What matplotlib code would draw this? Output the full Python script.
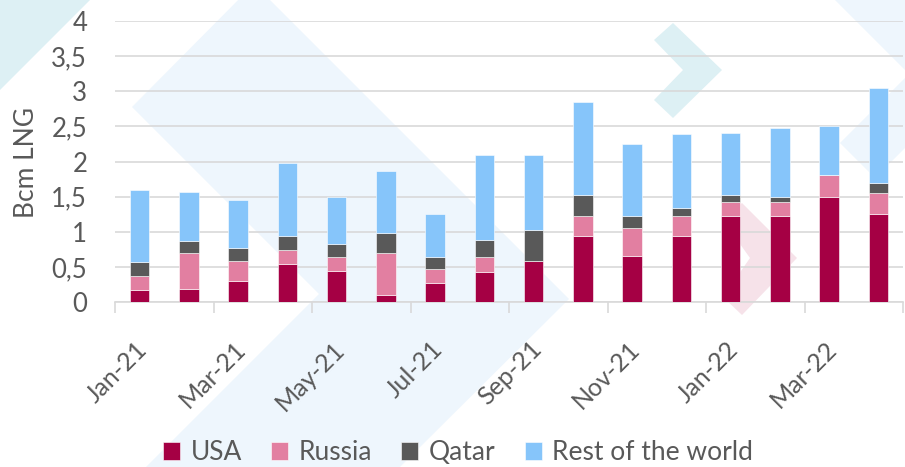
import matplotlib.pyplot as plt
import matplotlib.transforms as mtransforms
from matplotlib.patches import Polygon
import numpy as np

# Monthly LNG imports by origin (Bcm)
months = ['Jan-21', 'Feb-21', 'Mar-21', 'Apr-21', 'May-21', 'Jun-21', 'Jul-21', 'Aug-21',
          'Sep-21', 'Oct-21', 'Nov-21', 'Dec-21', 'Jan-22', 'Feb-22', 'Mar-22', 'Apr-22']
usa = [0.18, 0.19, 0.30, 0.54, 0.45, 0.10, 0.28, 0.43, 0.59, 0.94, 0.66, 0.94, 1.23, 1.23, 1.50, 1.25]
russia = [0.20, 0.51, 0.29, 0.20, 0.20, 0.60, 0.20, 0.21, 0.00, 0.29, 0.39, 0.29, 0.20, 0.20, 0.31, 0.30]
qatar = [0.20, 0.17, 0.18, 0.20, 0.18, 0.29, 0.17, 0.25, 0.44, 0.29, 0.18, 0.11, 0.09, 0.07, 0.00, 0.15]
rest = [1.02, 0.70, 0.69, 1.04, 0.67, 0.87, 0.60, 1.20, 1.06, 1.33, 1.02, 1.05, 0.89, 0.98, 0.69, 1.35]

series = [('USA', usa, '#A50044'), ('Russia', russia, '#E27FA1'),
          ('Qatar', qatar, '#595959'), ('Rest of the world', rest, '#86C5FA')]

TEXT = '#595959'
GRID = '#D9D9D9'
W, H = 905, 467

plt.rcParams['font.family'] = ['Lato', 'DejaVu Sans']

fig = plt.figure(figsize=(W / 100, H / 100), dpi=100)
fig.patch.set_facecolor('white')


def px(points):
    # pixel coords (from top-left) -> figure fraction
    return [(x / W, 1 - y / H) for x, y in points]


# decorative background shapes
shapes = [
    ([(0, 0), (90, 0), (0, 90)], '#DDF0F4'),
    ([(254, -16), (569, 299), (400, 467), (146, 467), (319, 294), (132, 107)], '#EEF6FD'),
    ([(673, 23), (722, 70), (673, 118), (654, 100), (683, 70), (654, 40)], '#DDF0F4'),
    ([(742, 203), (797, 258), (742, 315), (723, 297), (750, 258), (723, 220)], '#F6E2E9'),
    ([(835, 0), (909, 74), (840, 143), (875, 178), (990, 63), (927, -2)], '#EEF6FD'),
]
for pts, col in shapes:
    fig.patches.append(Polygon(px(pts), closed=True, transform=fig.transFigure,
                               facecolor=col, edgecolor='none', zorder=-5))

ax = fig.add_axes([115 / W, 1 - 302.3 / H, (903 - 115) / W, (302.3 - 21) / H])
ax.set_facecolor('none')

x = np.arange(len(months))
bottom = np.zeros(len(months))
for name, vals, col in series:
    ax.bar(x, vals, 0.40, bottom=bottom, color=col, label=name,
           edgecolor='white', linewidth=0.4, zorder=3)
    bottom += np.array(vals)

ax.set_xlim(-0.5, len(months) - 0.5)
ax.set_ylim(0, 4)
ax.set_yticks(np.arange(0, 4.01, 0.5))
ax.set_yticklabels(['0', '0,5', '1', '1,5', '2', '2,5', '3', '3,5', '4'])
ax.grid(axis='y', color=GRID, linewidth=1.2, zorder=1)
ax.set_axisbelow(True)

for s in ['top', 'right', 'left']:
    ax.spines[s].set_visible(False)
ax.spines['bottom'].set_color(GRID)
ax.spines['bottom'].set_linewidth(1.2)
ax.spines['bottom'].set_zorder(2)

ax.set_xticks(x[::2])
ax.set_xticklabels(months[::2], rotation=45, ha='right', va='center', rotation_mode='anchor')
ax.set_xticks(np.arange(-0.5, len(months), 2), minor=True)
ax.tick_params(axis='x', which='major', length=0, pad=31, labelsize=18, labelcolor=TEXT)
ax.tick_params(axis='x', which='minor', length=8, width=1.2, color=GRID)
ax.tick_params(axis='y', length=0, pad=20, labelsize=18.5, labelcolor=TEXT)
shift = mtransforms.ScaledTranslation(4 / 100, 0, fig.dpi_scale_trans)
for lab in ax.get_xticklabels():
    lab.set_transform(lab.get_transform() + shift)

fig.text(27 / W, 1 - 162 / H, 'Bcm LNG', rotation=90, ha='center', va='center',
         fontsize=19, color=TEXT)

leg = fig.legend(loc='center', bbox_to_anchor=(458 / W, 1 - 453 / H), ncol=4,
                 frameon=False, fontsize=19, handlelength=0.65, handleheight=0.65,
                 handletextpad=0.4, columnspacing=1.1, borderaxespad=0)
for t in leg.get_texts():
    t.set_color(TEXT)

fig.savefig('out.png', dpi=100, facecolor='white')
